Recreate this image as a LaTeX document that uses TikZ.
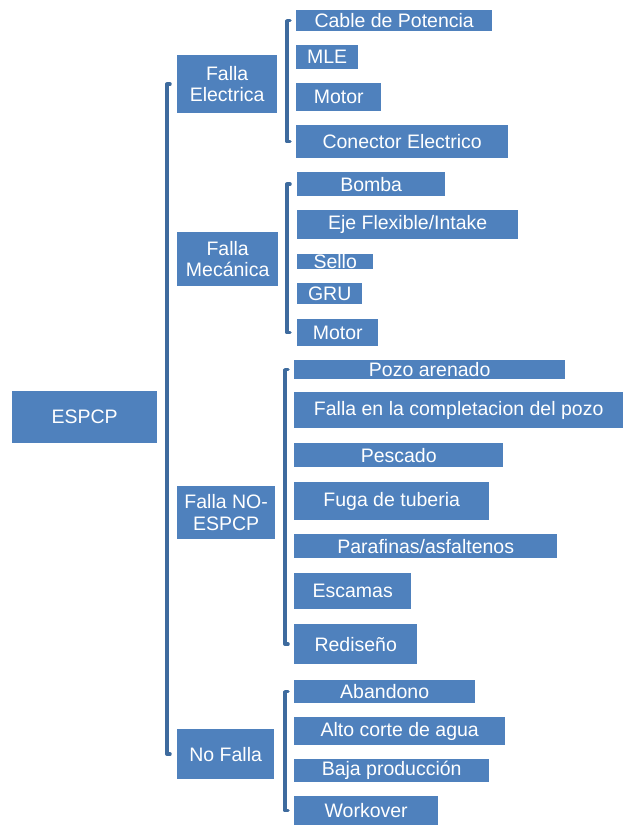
\documentclass[tikz,border=0pt]{standalone}
\usepackage{fontspec}
\setmainfont{Liberation Sans}
\definecolor{boxblue}{HTML}{4F81BD}
\definecolor{linkblue}{HTML}{3E6B9E}

\begin{document}
\begin{tikzpicture}[x=1pt, y=-1pt,
  every node/.style = {shape=rectangle, fill=boxblue, text=white,
    anchor=north west, inner sep=0pt, align=center,
    font=\fontsize{19.5}{21.5}\selectfont},
  brak/.style = {draw=linkblue, line width=3.5pt, line cap=round,
    line join=round}]
  \useasboundingbox (0,0) rectangle (623,825);
  \node[minimum width=145, minimum height=52] (espcp) at (12,391) {ESPCP};
  \node[minimum width=100, minimum height=58] (elec) at (177,55) {Falla\\Electrica};
  \node[minimum width=101, minimum height=54] (mech) at (177,232) {Falla\\Mecánica};
  \node[minimum width=98, minimum height=53] (noespcp) at (177,486) {Falla NO-\\ESPCP};
  \node[minimum width=97, minimum height=50] (nofalla) at (177,729) {No Falla};
  \node[minimum width=196, minimum height=21] (cable) at (296,10) {Cable de Potencia};
  \node[minimum width=62, minimum height=24] (mle) at (296,45) {MLE};
  \node[minimum width=85, minimum height=28] (motorA) at (296,83) {Motor};
  \node[minimum width=212, minimum height=33] (conector) at (296,125) {Conector Electrico};
  \node[minimum width=148, minimum height=24] (bomba) at (297,172) {Bomba};
  \node[minimum width=221, minimum height=29] (eje) at (297,210) {Eje Flexible/Intake};
  \node[minimum width=76, minimum height=14] (sello) at (297,254) {Sello};
  \node[minimum width=65, minimum height=21] (gru) at (297,283) {GRU};
  \node[minimum width=81, minimum height=27] (motorB) at (297,319) {Motor};
  \node[minimum width=271, minimum height=19] (pozo) at (294,360) {Pozo arenado};
  \node[minimum width=329, minimum height=36] (complet) at (294,392) {Falla en la completacion del pozo};
  \node[minimum width=209, minimum height=24] (pescado) at (294,443) {Pescado};
  \node[minimum width=195, minimum height=38] (fuga) at (294,482) {Fuga de tuberia};
  \node[minimum width=263, minimum height=24] (parafinas) at (294,534) {Parafinas/asfaltenos};
  \node[minimum width=117, minimum height=36] (escamas) at (294,573) {Escamas};
  \node[minimum width=123, minimum height=40] (rediseno) at (294,624) {Rediseño};
  \node[minimum width=181, minimum height=23] (abandono) at (294,680) {Abandono};
  \node[minimum width=211, minimum height=28] (alto) at (294,717) {Alto corte de agua};
  \node[minimum width=195, minimum height=23] (baja) at (294,759) {Baja producción};
  \node[minimum width=144, minimum height=29] (workover) at (294,796) {Workover};
  \foreach \top/\bot/\gap in {elec/nofalla/10, cable/conector/9,
      bomba/motorB/10, pozo/rediseno/9, abandono/workover/9}
    \draw[brak] ([xshift=-\gap+3]\top.west) -- ([xshift=-\gap]\top.west)
      -- ([xshift=-\gap]\top.west |- \bot.west) -- ([xshift=-\gap+3]\top.west |- \bot.west);
\end{tikzpicture}
\end{document}
